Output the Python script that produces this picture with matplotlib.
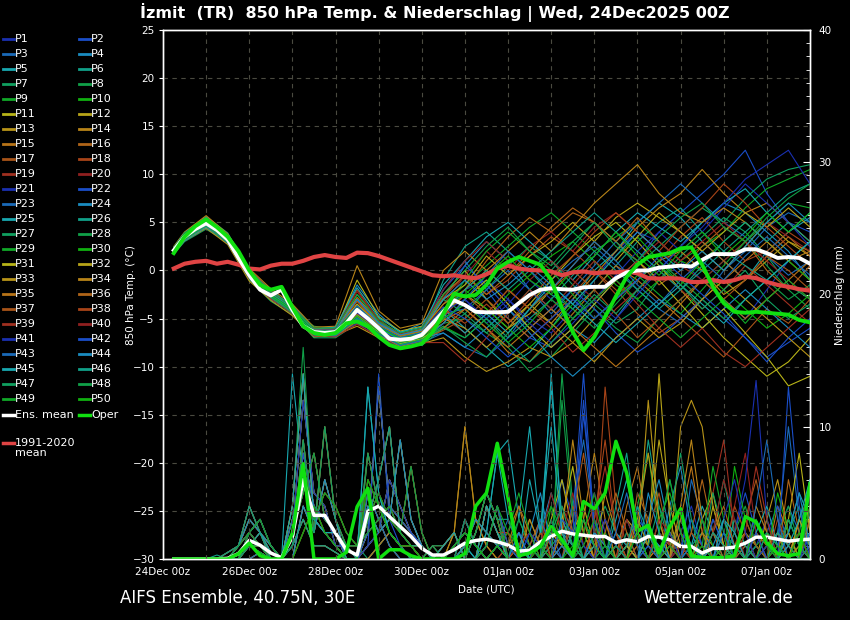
import datetime as dt
import matplotlib
matplotlib.use("Agg")
import matplotlib.pyplot as plt
import matplotlib.dates as mdates
from matplotlib.lines import Line2D
from matplotlib.ticker import MultipleLocator, FixedLocator

BG = "black"
FG = "white"
GRID = "#4a4a40"

START = dt.datetime(2025, 12, 24, 0)
END = dt.datetime(2026, 1, 8, 0)

# forecast steps: +6h ... +360h (members' temperature kept 12-hourly)
hours_6h = list(range(6, 361, 6))
hours_12h = [6] + list(range(12, 361, 12))
times_6h = [START + dt.timedelta(hours=h) for h in hours_6h]
times_12h = [START + dt.timedelta(hours=h) for h in hours_12h]

member_colors = [
    "#1a30b0", "#1a4ec8", "#1a6ab8", "#1a8cc0", "#18a8b0",
    "#10a088", "#10a060", "#10a048", "#10a828", "#10b010",
    "#b8b418", "#b8a418", "#b89418", "#b88418", "#b87418",
    "#b06418", "#a85418", "#a84418", "#a03020", "#902020",
]

# --- 850 hPa temperature (degC) ---------------------------------------------+

ens_mean_t = [2.1, 3.5, 4.3, 4.9, 4.2, 3.2, 1.3, -0.5, -2.0, -2.6,
              -2.0, -4.1, -5.8, -6.4, -6.5, -6.4, -5.5, -4.1, -5.0, -6.0,
              -7.1, -7.2, -7.1, -6.7, -5.5, -4.3, -3.1, -3.6, -4.3, -4.35,
              -4.35, -4.3, -3.4, -2.55, -2.0, -1.85, -1.95, -2.0, -1.75, -1.7,
              -1.7, -0.8, -0.2, 0.0, 0.0, 0.3, 0.4, 0.5, 0.4, 1.1,
              1.7, 1.7, 1.7, 2.2, 2.2, 1.8, 1.3, 1.4, 1.3, 0.7]

oper_t = [1.8, 3.5, 4.6, 5.3, 4.5, 3.5, 2.0, 0.0, -1.5, -2.0,
          -1.7, -3.8, -5.8, -6.5, -6.7, -6.5, -5.5, -5.3, -5.8, -6.9,
          -7.75, -8.1, -7.9, -7.6, -6.4, -4.5, -2.4, -2.7, -2.55, -1.5,
          0.2, 0.9, 1.4, 1.0, 0.6, -1.0, -3.9, -6.4, -8.3, -6.9,
          -4.8, -2.7, -0.65, 0.6, 1.4, 1.6, 1.8, 2.3, 2.4, 0.6,
          -1.7, -3.4, -4.3, -4.4, -4.3, -4.4, -4.5, -4.6, -5.15, -5.4]

clim_t = [0.2, 0.7, 0.9, 1.0, 0.7, 0.9, 0.6, 0.2, 0.1, 0.5,
          0.7, 0.7, 1.0, 1.4, 1.6, 1.4, 1.3, 1.85, 1.8, 1.5,
          1.1, 0.7, 0.3, -0.1, -0.5, -0.6, -0.5, -0.7, -0.8, -0.4,
          0.2, 0.5, 0.2, 0.05, 0.0, -0.1, -0.5, -0.2, -0.1, -0.3,
          -0.2, -0.2, -0.1, -0.3, -0.8, -0.85, -0.8, -0.85, -1.2, -1.2,
          -1.0, -1.2, -1.0, -0.65, -0.8, -1.2, -1.5, -1.7, -1.95, -2.1]

member_t = [
    [2.0, 3.4, 5.0, 3.5, -0.3, -2.5, -4.0, -6.5, -6.6, -4.5, -6.2, -7.5, -7.0, -5.0, -2.0, -1.0, -3.0, -5.0, -6.5, -4.0, -1.0, 2.0, 4.0, 3.0, 1.0, -1.0, -3.0, -5.0, -2.0, 1.0, 3.0],
    [2.3, 3.8, 5.4, 3.0, -0.8, -3.0, -4.4, -6.8, -6.2, -3.0, -5.5, -7.0, -6.0, -2.0, 1.0, -2.0, -5.0, -7.0, -8.0, -6.0, -3.5, -1.0, 1.0, 4.0, 6.0, 8.0, 10.0, 12.5, 8.0, 5.0, 4.0],
    [1.8, 3.2, 4.5, 2.8, -0.2, -2.2, -3.6, -6.0, -6.9, -5.0, -6.5, -8.0, -7.5, -6.5, -8.0, -9.0, -7.0, -4.0, -1.0, 1.0, 2.5, 0.5, -2.0, -4.0, -5.5, -3.0, 0.0, 2.0, 4.5, 6.0, 5.0],
    [2.2, 3.6, 5.2, 3.6, -0.6, -2.9, -4.5, -6.2, -6.0, -1.5, -4.5, -6.5, -5.5, -3.0, 0.5, 3.0, 1.0, -2.0, -4.0, -6.0, -7.5, -5.0, -2.0, 0.0, 2.5, 5.0, 7.0, 6.0, 4.0, 2.0, -1.0],
    [1.9, 3.3, 4.7, 3.3, -0.9, -2.4, -3.9, -6.9, -6.7, -4.8, -6.8, -7.8, -6.8, -4.0, -6.0, -8.0, -10.0, -8.5, -6.0, -3.0, 0.0, 2.0, 5.0, 7.0, 5.5, 3.0, 1.0, -1.0, 2.0, 4.0, 6.0],
    [2.4, 3.9, 5.6, 3.9, 0.0, -2.0, -3.8, -6.3, -6.5, -3.5, -5.8, -7.0, -6.5, -1.0, 2.5, 4.0, 2.0, 0.0, -2.5, -4.0, -2.0, 0.5, 3.0, 5.0, 6.5, 4.0, 2.0, 4.0, 6.0, 8.0, 9.0],
    [1.7, 3.0, 4.3, 2.9, -1.0, -3.2, -4.6, -7.0, -7.0, -5.5, -6.5, -7.5, -7.8, -6.0, -4.5, -2.0, 0.5, 2.5, 1.0, -1.5, -3.5, -5.5, -4.0, -1.0, 1.5, 3.5, 5.5, 4.0, 1.5, -1.5, -3.0],
    [2.1, 3.5, 4.8, 3.1, -0.4, -2.7, -4.2, -5.8, -6.1, -4.0, -6.0, -7.2, -6.8, -5.5, -5.0, -6.5, -8.0, -10.5, -9.0, -6.5, -4.0, -6.0, -7.5, -5.0, -3.0, -1.0, 1.0, 3.0, 0.5, -2.0, -4.0],
    [2.0, 3.6, 5.1, 3.4, -0.2, -2.4, -4.1, -6.6, -6.3, -2.5, -5.0, -6.8, -6.2, -3.5, -1.5, 0.5, 2.5, 4.5, 6.0, 4.0, 2.0, 3.5, 5.0, 3.0, 1.0, 2.5, 4.0, 6.5, 8.5, 9.5, 10.5],
    [2.2, 3.7, 5.3, 3.2, -0.7, -2.8, -4.3, -6.4, -6.8, -5.0, -6.2, -7.6, -7.2, -5.8, -7.0, -5.0, -2.5, -0.5, 1.5, 3.0, 1.0, -1.5, -3.0, -1.0, 1.0, 0.0, -2.0, -4.0, -6.0, -4.5, -2.5],
    [1.9, 3.3, 4.6, 3.0, -0.5, -2.5, -3.9, -6.1, -6.2, -1.0, -4.8, -6.3, -5.8, -2.5, 0.0, -3.0, -5.5, -3.5, -1.0, 1.5, 3.5, 5.0, 3.0, 0.5, -2.0, -4.5, -7.0, -9.0, -11.0, -9.5, -7.0],
    [2.3, 3.6, 5.0, 3.5, -0.1, -2.3, -4.0, -6.2, -6.4, -4.2, -5.6, -6.9, -6.4, -4.5, -2.5, -4.0, -6.0, -4.5, -2.0, 0.5, 3.0, 5.5, 7.0, 5.5, 4.0, 2.0, 0.0, 2.5, 5.0, 3.0, 1.5],
    [1.8, 3.1, 4.4, 2.7, -1.1, -3.1, -4.7, -6.9, -6.7, -5.8, -7.0, -8.2, -7.6, -7.0, -9.0, -10.5, -9.5, -8.0, -9.0, -7.5, -5.0, -3.0, -1.0, 1.0, 2.0, 0.0, -2.5, -1.0, 1.0, 3.0, 2.0],
    [2.5, 4.0, 5.7, 3.8, 0.2, -1.9, -3.5, -5.9, -5.8, 0.5, -4.2, -6.0, -5.5, 0.0, 2.0, 0.0, -2.0, -4.0, -5.5, -3.0, -0.5, 2.0, 4.5, 6.5, 8.0, 10.5, 8.0, 6.0, 7.0, 5.0, 3.0],
    [2.0, 3.4, 4.9, 3.3, -0.6, -2.6, -4.2, -6.5, -6.5, -4.5, -6.4, -7.4, -6.9, -5.2, -4.0, -6.0, -8.5, -9.5, -7.0, -4.5, -2.0, 0.5, -1.0, -3.0, -5.0, -3.0, -1.0, 1.0, 3.0, 1.0, -1.0],
    [2.1, 3.5, 5.0, 3.4, -0.4, -2.6, -4.1, -6.4, -6.3, -3.8, -5.9, -7.1, -6.6, -4.0, -2.0, 1.0, 3.5, 5.5, 4.0, 6.0, 5.0, 3.0, 1.0, -1.5, 0.0, 2.5, 4.5, 3.0, 0.0, -2.0, 0.5],
    [1.8, 3.3, 4.7, 3.1, -0.6, -2.9, -4.4, -6.7, -6.9, -5.2, -6.6, -7.9, -7.3, -6.2, -5.0, -3.0, -5.0, -7.0, -5.0, -2.5, 0.0, -2.0, -4.5, -6.5, -5.0, -7.0, -9.0, -6.5, -4.0, -5.5, -3.0],
    [2.4, 3.8, 5.5, 3.7, 0.1, -2.1, -3.9, -6.0, -6.0, -2.0, -5.2, -6.6, -6.0, -2.8, -0.5, -2.5, -1.0, 1.5, 3.5, 2.0, 0.0, -2.5, -1.0, 1.0, 3.5, 5.5, 3.0, 1.0, 2.0, 4.0, 2.5],
    [2.0, 3.4, 4.8, 3.2, -0.5, -2.7, -4.2, -6.5, -6.5, -4.3, -6.1, -7.3, -6.8, -4.8, -6.5, -4.5, -2.0, -4.0, -6.0, -8.5, -6.5, -4.0, -2.0, 0.0, -2.0, -4.0, -2.0, 0.5, -1.5, -3.5, -5.5],
    [2.2, 3.6, 5.1, 3.3, -0.5, -2.5, -4.0, -6.3, -6.4, -3.2, -5.8, -7.0, -6.5, -3.5, -0.5, 2.0, 0.0, 2.5, 4.0, 2.0, 4.5, 6.0, 4.0, 2.0, 0.5, -1.0, 1.0, 3.0, 5.0, 3.5, 2.0],
    [1.9, 3.2, 4.6, 2.9, -0.8, -2.8, -4.4, -6.8, -6.6, -5.5, -6.9, -8.0, -7.4, -5.5, -3.0, -5.5, -3.5, -1.0, -3.0, -5.0, -3.0, -0.5, 2.0, 4.0, 2.0, 4.0, 6.5, 9.0, 7.0, 5.0, 2.5],
    [2.3, 3.7, 5.3, 3.5, -0.3, -2.4, -3.9, -6.1, -6.2, -3.0, -5.4, -6.7, -6.3, -2.0, 0.5, -1.5, -4.0, -6.0, -4.0, -2.0, -4.0, -6.5, -8.5, -7.0, -5.0, -3.0, -5.0, -7.0, -9.0, -7.5, -6.0],
    [2.1, 3.5, 4.9, 3.2, -0.5, -2.6, -4.1, -6.4, -6.5, -4.3, -6.0, -7.2, -6.7, -4.5, -4.0, -2.0, 0.0, -2.0, -4.5, -2.0, 0.5, 3.0, 5.0, 7.0, 9.0, 7.0, 5.0, 3.5, 1.5, -0.5, 1.0],
    [1.8, 3.1, 4.5, 3.0, -0.7, -2.7, -4.3, -6.6, -6.8, -5.0, -6.3, -7.7, -7.0, -6.5, -8.0, -6.0, -4.0, -6.5, -9.0, -11.0, -9.0, -7.0, -5.0, -3.0, -4.5, -6.0, -4.0, -2.0, -4.0, -6.0, -8.0],
    [2.4, 3.9, 5.5, 3.6, 0.0, -2.2, -3.8, -6.1, -5.9, -1.8, -4.9, -6.4, -5.9, -1.5, 1.0, 3.5, 5.0, 3.0, 1.0, -1.0, 1.5, 4.0, 6.0, 4.5, 3.0, 5.0, 7.0, 8.5, 6.0, 4.0, 5.5],
    [2.0, 3.3, 4.7, 3.1, -0.6, -2.8, -4.3, -6.7, -6.6, -4.6, -6.3, -7.5, -6.9, -5.0, -3.5, -5.0, -7.0, -5.0, -3.0, -0.5, 2.0, 0.0, -2.0, -4.0, -2.0, 0.0, 2.0, 0.5, -1.0, 1.0, 3.0],
    [2.2, 3.6, 5.0, 3.4, -0.4, -2.5, -4.0, -6.3, -6.2, -3.6, -5.7, -6.9, -6.4, -3.0, -4.5, -6.5, -4.5, -2.0, 0.0, 2.5, 5.0, 3.0, 0.5, 2.5, 4.5, 6.5, 5.0, 7.5, 9.5, 10.5, 11.0],
    [1.9, 3.4, 4.8, 3.2, -0.4, -2.6, -4.1, -6.5, -6.7, -4.8, -6.4, -7.6, -7.1, -5.8, -7.5, -9.0, -6.5, -4.0, -2.0, -4.0, -6.0, -3.5, -1.0, 1.0, -1.0, -3.0, -5.0, -3.0, -1.0, -3.0, -1.5],
    [2.1, 3.5, 5.0, 3.3, -0.5, -2.6, -4.1, -6.4, -6.4, -4.0, -5.9, -7.1, -6.6, -4.2, -1.0, 2.0, 4.0, 2.0, 0.0, -2.5, -5.0, -3.0, -0.5, -2.5, -4.5, -2.0, 0.5, 3.0, 5.0, 7.0, 6.5],
    [2.3, 3.7, 5.2, 3.4, -0.5, -2.7, -4.2, -6.3, -6.3, -3.8, -5.8, -7.0, -6.5, -4.0, -2.0, -4.0, -6.0, -8.0, -6.0, -3.5, -1.0, 1.5, 3.5, 1.0, -1.5, 1.0, 3.0, 5.0, 3.0, 1.0, -1.0],
    [1.8, 3.2, 4.6, 3.0, -0.7, -2.7, -4.3, -6.6, -6.6, -4.7, -6.4, -7.6, -7.1, -5.5, -3.0, -1.0, -3.5, -6.0, -8.0, -6.0, -3.5, -1.0, 1.0, -1.0, -3.5, -6.0, -4.0, -6.5, -9.0, -12.0, -11.0],
    [2.2, 3.6, 5.1, 3.3, -0.4, -2.5, -4.0, -6.2, -6.3, -3.5, -5.6, -6.8, -6.3, -3.0, -1.5, 1.5, -0.5, 1.5, 3.0, 5.0, 3.0, 1.0, 3.5, 6.0, 4.0, 2.0, 4.0, 6.0, 4.5, 6.5, 4.5],
    [2.0, 3.4, 4.8, 3.2, -0.6, -2.6, -4.2, -6.5, -6.6, -4.6, -6.2, -7.4, -6.9, -5.0, -6.0, -8.0, -6.0, -3.5, -5.5, -7.5, -9.5, -7.0, -5.0, -7.0, -5.5, -3.0, -1.0, -3.0, -5.0, -7.0, -9.0],
    [2.3, 3.8, 5.3, 3.5, -0.2, -2.3, -3.8, -6.1, -6.1, -2.8, -5.3, -6.6, -6.1, -3.5, -2.0, 0.0, 2.0, 4.0, 2.0, 4.5, 7.0, 9.0, 11.0, 8.0, 6.0, 5.0, 6.5, 5.0, 3.0, 1.0, 2.0],
    [1.9, 3.3, 4.7, 3.1, -0.7, -2.8, -4.3, -6.7, -6.8, -5.3, -6.7, -7.9, -7.3, -6.0, -4.0, -6.0, -8.0, -6.0, -4.0, -6.0, -8.0, -10.0, -8.0, -6.0, -3.5, -1.0, -3.0, -5.0, -3.0, -1.0, 1.0],
    [2.1, 3.6, 5.1, 3.4, -0.3, -2.4, -4.0, -6.3, -6.2, -3.2, -5.6, -6.8, -6.3, -2.5, -0.5, -2.5, -0.5, 2.0, 4.5, 6.5, 5.0, 3.0, 5.5, 3.0, 1.0, 3.0, 1.0, -1.0, 1.5, 3.5, 1.5],
    [2.0, 3.4, 4.8, 3.2, -0.5, -2.6, -4.1, -6.5, -6.5, -4.5, -6.1, -7.3, -6.8, -4.8, -2.5, -4.5, -2.0, -4.0, -2.0, 0.0, -2.0, -4.5, -7.0, -5.0, -3.0, -1.0, -3.0, -1.0, 1.5, 0.0, -2.0],
    [2.2, 3.5, 5.0, 3.3, -0.5, -2.6, -4.1, -6.4, -6.4, -3.9, -6.0, -7.2, -6.7, -4.0, -5.5, -3.5, -5.5, -3.0, -0.5, 1.5, 4.0, 6.0, 4.0, 2.0, 4.5, 6.5, 9.0, 7.0, 4.5, 2.5, 0.5],
    [1.9, 3.3, 4.7, 3.0, -0.8, -2.9, -4.5, -6.8, -6.9, -5.6, -6.9, -8.1, -7.5, -7.5, -9.5, -7.0, -4.5, -2.0, -4.0, -1.5, 1.0, -1.0, -3.5, -6.0, -8.0, -6.0, -8.5, -10.0, -8.0, -6.0, -4.0],
    [2.4, 3.8, 5.4, 3.6, -0.2, -2.3, -3.9, -6.2, -6.1, -2.2, -5.2, -6.6, -6.0, -2.0, 1.0, 3.0, 1.0, -1.0, 1.0, -1.0, -3.0, -1.0, 1.0, 3.0, 1.0, 3.0, 5.0, 3.0, 1.0, -1.0, -3.0],
    [2.0, 3.4, 4.9, 3.2, -0.5, -2.6, -4.1, -6.5, -6.5, -4.4, -6.1, -7.3, -6.8, -4.3, -3.0, -5.0, -3.0, -5.5, -7.5, -5.5, -3.0, -5.0, -2.5, 0.0, 2.5, 4.5, 7.0, 9.5, 11.0, 12.5, 9.0],
    [2.2, 3.6, 5.1, 3.3, -0.4, -2.5, -4.0, -6.3, -6.3, -3.7, -5.8, -7.0, -6.5, -3.8, -5.0, -7.0, -9.0, -7.0, -5.0, -3.0, -5.0, -3.0, -1.0, 1.5, -0.5, -2.5, -4.5, -7.0, -9.5, -7.0, -5.0],
    [1.9, 3.3, 4.7, 3.1, -0.7, -2.8, -4.3, -6.7, -6.8, -5.0, -6.6, -7.8, -7.3, -5.5, -3.0, -0.5, 2.0, 0.0, -2.0, 0.5, 3.0, 1.0, -1.5, -3.5, -1.0, 1.0, -1.0, 1.5, 3.5, 1.5, -0.5],
    [2.3, 3.7, 5.2, 3.5, -0.3, -2.4, -3.9, -6.2, -6.2, -3.0, -5.5, -6.7, -6.2, -3.0, -1.0, -3.0, -1.5, 0.5, -1.5, -3.5, -1.0, 1.5, 4.0, 2.0, 0.0, 2.0, 0.0, 2.5, 5.0, 7.0, 5.0],
    [2.0, 3.5, 4.9, 3.2, -0.5, -2.6, -4.1, -6.4, -6.4, -4.1, -6.0, -7.2, -6.7, -4.5, -6.5, -4.5, -6.5, -4.0, -1.5, -3.5, -5.5, -7.5, -5.5, -3.5, -1.5, -3.5, -5.5, -3.0, -1.0, 1.0, 3.0],
    [2.1, 3.5, 4.9, 3.2, -0.5, -2.6, -4.1, -6.4, -6.4, -4.0, -6.0, -7.2, -6.7, -4.4, -2.0, 0.0, -2.0, 0.0, 2.0, 4.0, 6.0, 4.0, 2.0, 0.0, -2.0, 0.5, 3.0, 5.0, 3.0, 5.0, 3.0],
    [1.8, 3.2, 4.6, 2.9, -0.7, -2.8, -4.4, -6.7, -6.7, -5.1, -6.5, -7.7, -7.2, -6.0, -7.0, -5.0, -7.5, -9.5, -7.5, -5.0, -2.5, -4.5, -2.0, 0.5, -1.5, -4.0, -2.0, 0.0, -3.0, -5.0, -3.5],
    [2.4, 3.9, 5.4, 3.6, -0.1, -2.2, -3.8, -6.0, -6.0, -2.5, -5.3, -6.5, -6.0, -2.5, 0.0, 2.5, 4.5, 2.0, 0.5, 3.0, 5.0, 2.5, 1.0, 3.5, 5.5, 7.0, 4.5, 3.0, 5.5, 7.5, 9.0],
    [1.9, 3.3, 4.8, 3.1, -0.6, -2.7, -4.2, -6.6, -6.6, -4.7, -6.3, -7.5, -7.0, -5.0, -3.5, -5.5, -7.5, -5.5, -3.0, -5.0, -3.0, -1.0, -3.0, -5.0, -7.0, -5.0, -3.0, -5.5, -3.0, -1.0, -3.0],
    [2.1, 3.6, 5.0, 3.3, -0.4, -2.5, -4.0, -6.3, -6.3, -3.9, -5.9, -7.1, -6.6, -4.0, -2.5, -0.5, 1.5, -1.0, -2.5, 0.0, 1.5, 4.0, 1.5, -0.5, 2.0, 4.0, 1.5, 3.5, 6.0, 4.0, 6.0],
]

# --- precipitation per 6h (mm) ----------------------------------------------+

ens_mean_p = [0, 0, 0, 0, 0, 0.05, 0.4, 1.4, 1.05, 0.45,
              0.1, 1.7, 6.0, 3.3, 3.3, 1.95, 0.7, 0.3, 3.6, 4.0,
              3.2, 2.45, 1.7, 0.8, 0.3, 0.3, 0.7, 1.2, 1.4, 1.5,
              1.3, 1.05, 0.6, 0.65, 1.3, 1.7, 2.1, 1.9, 1.8, 1.7,
              1.7, 1.25, 1.45, 1.3, 1.7, 1.65, 1.45, 0.95, 0.95, 0.45,
              0.8, 0.8, 0.9, 1.2, 1.65, 1.65, 1.5, 1.35, 1.45, 1.5]

oper_p = [0, 0, 0, 0, 0, 0, 0.4, 1.2, 0.25, 0,
          0, 1.95, 7.2, 0, 0, 0, 0.5, 3.95, 5.35, 0,
          0.7, 0.7, 0.25, 0, 0, 0, 0, 0.4, 4.0, 5.0,
          8.75, 4.6, 0.25, 0.45, 0.95, 2.45, 1.45, 0.25, 4.35, 3.8,
          5.0, 8.9, 6.5, 2.1, 2.55, 0.45, 2.45, 3.8, 0.25, 0.1,
          0.1, 0.1, 0.25, 3.2, 2.8, 1.25, 0.4, 0.25, 0.4, 5.7]

member_p = [
    [0,0,0,0,0, 0,0,1,1,0,0, 1,8,4,3,2,0,0, 3,5,3,2,1,0,0, 0,1,2,1,0,1, 0,0,1,3,1,0,0,2,5,2,0,0,0,1,0,0,2,4,1,0,0,0,0,1,3,1,0,0,2],
    [0,0,0,0,0, 0,1,2,1,0,0, 2,12,5,4,1,1,0, 6,4,2,1,1,0,0, 0,0,1,3,2,1, 1,0,0,0,2,6,3,14,2,0,0,0,3,2,0,0,0,1,0,0,0,2,5,2,0,0,1,0,0],
    [0,0,0,0,0, 0,0,2,3,1,0, 0,4,2,6,3,0,0, 1,2,6,4,2,1,0, 1,2,0,0,4,2, 0,2,0,0,0,1,4,9,3,0,0,1,0,0,2,1,0,0,0,3,1,0,0,0,0,2,4,2,1],
    [0,0,0,0,0, 0,0.5,1,0.5,0,0, 3,6,3,2,1,0,0, 2,13,4,3,2,1,0, 0,0,0,2,5,3, 0,0,0,2,5,2,0,0,0,0,1,3,1,0,0,4,7,2,0,0,0,0,1,0,0,0,3,1,0],
    [0,0,0,0,0, 0,1,3,2,1,0, 14,6,3,2,2,1,0, 13,5,2,1,0,0,0, 0,0,1,0,2,8, 3,1,0,0,14,2,1,0,0,0,3,6,2,0,0,0,0,1,4,2,0,0,0,0,1,0,2,5,3],
    [0,0,0,0,0.3, 0,0,1,2,0.5,0, 1,9,2,10,3,1,0, 4,2,3,9,3,1,0, 0,0,3,1,0,0, 0,0,0,0,1,0,0,3,1,0,0,0,2,9,4,1,0,0,0,0,2,1,0,0,0,1,3,1,0],
    [0,0,0,0,0, 0.5,1,4,2,0,0, 2,5,8,3,2,1,1, 0,1,2,1,1,0,0, 0,0,0,0,1,4, 1,3,1,0,0,0,0,0,2,4,2,0,0,0,0,1,3,1,0,2,6,2,0,0,0,0,0,2,1],
    [0,0,0,0,0, 0,0,1,1,0,0, 4,16,3,2,2,1,0, 3,6,10,2,1,1,0, 0,1,2,1,0,1, 0,0,2,1,0,14,4,1,0,0,0,1,0,0,0,2,1,0,0,0,0,3,1,0,0,2,4,1,0],
    [0,0,0,0,0, 0,1,2,1,0,0, 0,2,4,2,1,0,0, 8,4,2,1,0,0,1, 0,0,1,3,2,1, 0,1,0,0,0,2,3,1,0,0,0,0,4,8,2,0,0,0,1,0,0,0,0,1,2,1,0,0,3],
    [0,0,0,0,0, 0,0,2,3,1,0, 2,7,3,5,4,2,1, 2,3,4,2,7,2,0, 1,2,0,0,4,2, 2,0,0,0,4,2,0,0,1,2,0,0,0,0,3,5,2,0,0,0,0,7,3,1,0,0,0,1,2],
    [0,0,0,0,0, 0,0,0,0.5,0,0, 1,8,4,3,2,0,0, 1,2,6,4,2,1,0, 0,0,0,2,5,3, 0,0,0,1,3,6,2,0,0,0,0,1,2,0,0,0,0,0,3,5,1,0,0,0,0,2,1,0,4],
    [0,0,0,0,0, 0,1,3,2,1,0, 2,12,5,4,1,1,0, 2,13,4,3,2,1,0, 0,0,3,1,0,0, 0,0,1,0,0,0,2,4,1,0,0,3,2,1,14,3,0,0,0,1,0,0,2,1,0,0,0,3,1],
    [0,0,0,0,0, 0,0,1,2,0.5,0, 0,4,2,6,3,0,0, 5,3,1,0,0,0,0, 0,2,10,3,1,0, 1,2,0,0,0,3,1,0,0,5,2,0,1,12,3,0,0,0,0,2,1,0,0,0,3,6,2,0,0],
    [0,0,0,0,0, 0.5,1,4,2,0,0, 3,6,3,2,1,0,0, 4,2,3,9,3,1,0, 0,0,0,0,1,4, 0,0,0,0,2,1,0,3,8,3,0,0,0,0,1,0,4,9,3,0,0,0,0,0,1,2,0,0,2],
    [0,0,0,0,0, 0,0,1,1,0,0, 1,3,1,1,0.5,0,0, 0,1,2,1,1,0,0, 0,1,2,1,0,1, 2,4,1,0,0,0,0,1,0,0,0,4,7,2,0,0,1,0,0,0,3,1,0,0,0,4,2,0,1],
    [0,0,0,0,0, 0,1,2,1,0,0, 4,14,3,2,2,1,0, 3,6,10,2,1,1,0, 0,0,1,3,2,1, 0,0,0,3,1,0,0,0,2,1,0,0,5,3,0,0,0,2,6,2,0,0,1,0,0,0,0,3,5],
    [0,0,0,0,0, 0,0,2,3,1,0, 2,5,8,3,2,1,1, 8,4,2,1,0,0,1, 1,2,0,0,4,2, 0,1,3,1,0,0,4,2,0,0,0,0,0,2,5,1,0,0,0,0,0,1,3,6,2,0,0,0,1],
    [0,0,0,0,0, 0,0.5,1,0.5,0,0, 1,9,2,10,3,1,0, 2,3,4,2,7,2,0, 0,0,0,2,5,3, 0,0,0,0,1,4,2,0,0,13,4,1,0,0,0,0,2,1,0,0,0,0,3,1,0,0,1,2,0],
    [0,0,0,0,0, 0,0,0,0.5,0,0, 0,2,4,2,1,0,0, 3,5,3,2,1,0,0, 0,0,3,1,0,0, 1,0,0,2,0,0,0,0,3,7,2,0,0,0,0,1,0,0,2,5,9,2,0,0,0,0,1,0,0],
    [0,0,0,0,0, 0,1,3,2,1,0, 2,7,3,5,4,2,1, 6,4,2,1,1,0,0, 0,0,1,3,2,1, 0,0,0,0,0,2,5,1,0,0,1,0,0,0,3,2,0,0,0,0,0,4,8,2,0,0,0,1,3],
    [0,0,0,0,0, 0,0,1,2,0.5,0, 1,8,4,3,2,0,0, 1,2,6,4,2,1,0, 0,0,0,0,1,4, 0,2,1,0,0,0,3,1,0,0,0,2,0,0,0,0,1,3,1,0,0,2,6,13.5,3,0,0,1,0],
    [0,0,0,0,0, 0.5,1,4,2,0,0, 2,12,5,4,1,1,0, 1,14,3,1,0,0,0, 0,1,2,1,0,1, 0,0,0,1,2,0,0,11,3,1,0,0,0,2,1,0,0,0,0,3,1,0,0,0,2,4,1,0,0],
    [0,0,0,0,0, 0,0,1,1,0,0, 0,4,2,6,3,0,0, 5,3,1,0,0,0,0, 0,0,1,3,2,1, 3,1,0,0,0,0,0,2,1,0,0,0,4,1,0,0,0,6,3,0,0,0,0,1,0,2,10,3,1],
    [0,0,0,0,0, 0,1,2,1,0,0, 3,6,3,2,1,0,0, 4,2,3,9,3,1,0, 1,2,0,0,4,2, 0,0,2,5,1,0,0,0,0,1,0,0,0,3,6,2,0,0,0,0,1,0,0,3,1,0,0,0,2],
    [0,0,0,0,0, 0,0,2,3,1,0, 1,3,1,1,0.5,0,0, 0,1,2,1,1,0,0, 0,0,1,0,2,8, 9,3,10,2,13,3,1,0,0,0,2,1,0,0,0,0,3,1,0,0,0,1,0,2,4,1,0,0,0],
    [0,0,0,0,0, 0,0.5,1,0.5,0,0, 4,14,3,2,2,1,0, 3,6,10,2,1,1,0, 0,0,3,1,0,0, 0,0,0,0,1,2,0,0,0,0,4,8,2,0,0,0,0,1,2,0,0,3,1,0,0,0,2,4,1],
    [0,0,0,0,0, 0,0,0,0.5,0,0, 2,5,8,3,2,1,1, 8,4,2,1,0,0,1, 1,2,0,0,4,2, 1,0,0,0,3,1,0,0,2,0,0,0,0,1,4,2,0,0,0,5,2,0,0,1,0,0,0,2,6],
    [0,0,0,0,0, 0,1,3,2,1,0, 1,9,2,10,3,1,0, 2,3,4,2,7,2,0, 0,0,0,0,1,4, 0,3,1,0,0,12,3,0,0,0,0,2,1,0,0,0,0,3,1,0,0,2,4,1,0,0,0,1,0],
    [0,0,0,0,0, 0,0,1,2,0.5,0, 0,2,4,2,1,0,0, 3,5,3,2,1,0,0, 0,1,2,1,0,1, 0,0,0,2,4,1,0,0,0,1,0,0,3,1,0,0,0,0,1,7,3,0,0,0,2,1,0,0,0],
    [0,0,0,0,0, 0.5,1,4,2,0,0, 2,7,3,5,4,2,1, 6,4,2,1,1,0,0, 0,0,1,3,2,1, 2,1,0,0,0,0,1,3,1,0,0,0,0,0,2,6,2,0,0,0,1,0,0,0,0,5,2,0,1],
    [0,0,0,0,0, 0,0,1,1,0,0, 2,12,5,4,1,1,0, 1,2,6,4,2,1,0, 0,0,0,2,5,3, 0,0,0,0,0,3,7,2,0,0,0,1,0,0,0,2,0,0,0,4,1,0,0,0,0,0,3,8,2],
    [0,0,0,0,0, 0,1,2,1,0,0, 1,8,4,3,2,0,0, 2,13,4,3,2,1,0, 1,2,0,0,4,2, 0,1,0,0,2,1,0,0,0,3,1,0,0,2,9,4,1,0,0,0,0,1,2,0,0,0,0,3,1],
    [0,0,0,0,0, 0,0,2,3,1,0, 3,6,3,2,1,0,0, 5,3,1,0,0,0,0, 0,0,3,1,0,0, 0,0,3,1,0,0,0,2,0,0,1,0,3,8,3,0,10,12,10,4,1,0,0,0,0,1,2,0,0],
    [0,0,0,0,0, 0,0.5,1,0.5,0,0, 0,4,2,6,3,0,0, 4,2,3,9,3,1,0, 0,2,10,3,1,0, 0,0,0,0,0,2,9,3,0,0,0,1,3,1,0,0,0,0,2,1,0,0,0,4,2,0,0,1,0],
    [0,0,0,0,0, 0,0,0,0.5,0,0, 4,14,3,2,2,1,0, 0,1,2,1,1,0,0, 0,0,0,0,1,4, 1,4,2,0,0,0,0,0,1,3,0,0,0,0,1,0,3,7,2,0,0,0,0,2,1,0,0,0,3],
    [0,0,0,0,0, 0,1,3,2,1,0, 1,3,1,1,0.5,0,0, 3,6,10,2,1,1,0, 0,1,2,1,0,1, 0,0,1,3,0,0,0,0,0,2,5,2,0,0,0,1,0,0,0,2,4,1,0,0,0,0,6,2,0],
    [0,0,0,0,0, 0,0,1,2,0.5,0, 1,9,2,10,3,1,0, 8,4,2,1,0,0,1, 0,0,1,3,2,1, 0,0,0,2,1,0,3,8,2,0,0,0,1,0,0,0,0,2,1,0,0,0,3,1,0,0,0,0,4],
    [0,0,0,0,0, 0.5,1,4,2,0,0, 2,5,8,3,2,1,1, 2,3,4,2,7,2,0, 1,2,0,0,4,2, 2,0,0,0,0,1,0,0,3,9,2,0,0,0,2,1,0,0,0,0,0,4,2,0,0,3,1,0,0],
    [0,0,0,0,0, 0,0,1,1,0,0, 2,7,3,5,4,2,1, 3,5,3,2,1,0,0, 0,0,0,2,5,3, 0,1,2,0,0,0,0,2,4,1,0,0,0,0,3,1,0,0,1,0,0,0,2,7,3,0,0,0,1],
    [0,0,0,0,0, 0,1,2,1,0,0, 0,2,4,2,1,0,0, 6,4,2,1,1,0,0, 0,0,3,1,0,0, 0,0,0,1,5,2,0,0,0,0,0,3,1,0,0,0,1,0,0,2,6,3,0,0,0,1,0,2,0],
    [0,0,0,0,0, 0,0,2,3,1,0, 2,12,5,4,1,1,0, 1,2,6,4,2,1,0, 0,0,3,1,0,0, 0,0,2,1,0,0,0,1,0,3,1,0,0,0,0,2,0,0,0,0,3,6,2,0,1,0,0,0,2],
    [0,0,0,0,0, 0,0.5,1,0.5,0,0, 1,8,4,3,2,0,0, 2,13,4,3,2,1,0, 0,0,0,0,1,4, 1,0,0,0,0,3,2,12,2,0,0,0,0,1,0,0,0,3,1,0,0,0,0,2,0,0,13,4,0],
    [0,0,0,0,0, 0,0,0,0.5,0,0, 3,6,3,2,1,0,0, 5,3,1,0,0,0,0, 0,1,2,1,0,1, 0,0,0,3,1,0,0,0,0,0,2,5,1,0,0,0,0,1,0,0,2,0,0,4,9,3,0,0,1],
    [0,0,0,0,0, 0,1,3,2,1,0, 0,4,2,6,3,0,0, 4,2,3,9,3,1,0, 0,0,1,3,2,1, 0,2,0,0,0,1,0,0,2,1,0,0,0,5,2,0,0,0,0,1,3,1,0,0,0,0,2,5,1],
    [0,0,0,0,0, 0,0,1,2,0.5,0, 4,14,3,2,2,1,0, 13,5,2,1,0,0,0, 1,2,0,0,4,2, 0,0,6,2,10,2,0,0,1,0,0,0,0,2,1,0,0,0,0,0,3,2,0,0,0,0,1,3,6],
    [0,0,0,0,0, 0.5,1,4,2,0,0, 1,3,1,1,0.5,0,0, 3,6,10,2,1,1,0, 0,0,0,2,5,3, 3,1,0,0,0,0,2,0,0,0,0,1,4,2,0,0,0,0,0,2,1,0,0,0,0,2,1,0,0],
    [0,0,0,0,0, 0,0,1,1,0,0, 1,9,2,10,3,1,0, 8,4,2,1,0,0,1, 0,0,3,1,0,0, 0,0,0,0,2,4,1,0,0,0,1,0,0,0,0,3,8,3,0,0,0,0,0,0,2,1,0,0,0],
    [0,0,0,0,0, 0,1,2,1,0,0, 2,5,8,3,2,1,1, 2,3,4,2,7,2,0, 0,0,0,2,5,3, 0,0,1,0,0,0,0,3,1,0,0,0,0,0,2,6,2,0,0,0,0,1,0,0,0,0,3,1,0],
    [0,0,0,0,0, 0,0,2,3,1,0, 2,7,3,5,4,2,1, 3,5,3,2,1,0,0, 0,0,0,0,1,4, 2,5,2,0,0,0,0,1,3,0,0,0,0,0,0,1,0,0,3,1,0,0,0,0,0,1,0,0,4],
    [0,0,0,0,0, 0,0.5,1,0.5,0,0, 0,2,4,2,1,0,0, 6,4,2,1,1,0,0, 0,1,2,1,0,1, 0,0,0,1,0,0,0,2,5,1,0,0,2,0,0,0,0,0,1,0,0,0,0,3,1,0,0,2,0],
]


def fx(px):
    return px / 850


def fy(py):
    return 1 - py / 620


fig = plt.figure(figsize=(8.5, 6.2), dpi=100, facecolor=BG)
ax = fig.add_axes([fx(163), fy(559), (810 - 163) / 850, (559 - 30) / 620])
ax2 = ax.twinx()
ax.set_zorder(ax2.get_zorder() + 1)
ax.patch.set_visible(False)

# members
for k in range(50):
    c = member_colors[k % 20]
    ax2.plot(times_6h, member_p[k], c=c, lw=0.8, zorder=2)
    ax.plot(times_12h, member_t[k], c=c, lw=0.8, zorder=2)

ax.plot(times_6h, clim_t, c="#e04444", lw=3, zorder=3)
ax.plot(times_6h, ens_mean_t, c=FG, lw=2.8, zorder=4)
ax.plot(times_6h, oper_t, c="#10e010", lw=2.8, zorder=5)
ax2.plot(times_6h, ens_mean_p, c=FG, lw=2.5, zorder=4)
ax2.plot(times_6h, oper_p, c="#10e010", lw=2.5, zorder=5)

# axes
ax.set_xlim(START, END)
ax.set_ylim(-30, 25)
ax2.set_ylim(0, 40)
major_days = [mdates.date2num(START + dt.timedelta(days=d)) for d in range(0, 15, 2)]
minor_days = [mdates.date2num(START + dt.timedelta(days=d)) for d in range(0, 16)]
ax.xaxis.set_major_locator(FixedLocator(major_days))
ax.xaxis.set_minor_locator(FixedLocator(minor_days))
ax.xaxis.set_major_formatter(mdates.DateFormatter("%d%b %Hz"))
ax.yaxis.set_major_locator(MultipleLocator(5))
ax2.yaxis.set_major_locator(MultipleLocator(10))
ax2.yaxis.set_minor_locator(MultipleLocator(1))

ax.grid(True, which="both", axis="x", color=GRID, ls=(0, (4, 4)), lw=0.8)
ax.grid(True, which="major", axis="y", color=GRID, ls=(0, (4, 4)), lw=0.8)

ax.tick_params(axis="x", which="both", length=0, pad=6, colors=FG, labelsize=7.5)
ax.tick_params(axis="y", length=3, pad=3, colors=FG, labelsize=7.5)
ax2.tick_params(axis="y", which="major", direction="in", length=5, pad=6,
                colors=FG, labelsize=7.5)
ax2.tick_params(axis="y", which="minor", direction="in", length=3, colors=FG)

for a in (ax, ax2):
    for s in a.spines.values():
        s.set_color(FG)
        s.set_linewidth(1)

# texts
fig.text(fx(435), fy(13),
         "İzmit  (TR)  850 hPa Temp. & Niederschlag | Wed, 24Dec2025 00Z",
         color=FG, fontsize=11.5, fontweight="bold", ha="center", va="center")
fig.text(fx(131), fy(295), "850 hPa Temp. (°C)", color=FG, fontsize=7.5,
         rotation=90, ha="center", va="center")
fig.text(fx(840), fy(295), "Niederschlag (mm)", color=FG, fontsize=7.5,
         rotation=90, ha="center", va="center")
fig.text(fx(486), fy(589), "Date (UTC)", color=FG, fontsize=7.5,
         ha="center", va="center")
fig.text(fx(120), fy(598), "AIFS Ensemble, 40.75N, 30E", color=FG,
         fontsize=12, ha="left", va="center")
fig.text(fx(793), fy(598), "Wetterzentrale.de", color=FG, fontsize=12,
         ha="right", va="center")

# legend, drawn by hand in two columns
for k in range(50):
    row, col = divmod(k, 2)
    y = 39 + 15 * row
    x0 = 3 if col == 0 else 79
    fig.add_artist(Line2D([fx(x0), fx(x0 + 11)], [fy(y), fy(y)],
                          color=member_colors[k % 20], lw=2))
    fig.text(fx(x0 + 12), fy(y), f"P{k + 1}", color=FG, fontsize=8,
             ha="left", va="center")

extra = [(3, 415, FG, "Ens. mean"), (79, 415, "#10e010", "Oper")]
for x0, y, c, label in extra:
    fig.add_artist(Line2D([fx(x0), fx(x0 + 11)], [fy(y), fy(y)], color=c, lw=2.5))
    fig.text(fx(x0 + 12), fy(y), label, color=FG, fontsize=8, ha="left", va="center")
fig.add_artist(Line2D([fx(3), fx(14)], [fy(443), fy(443)], color="#e04444", lw=2.5))
fig.text(fx(15), fy(448), "1991-2020\nmean", color=FG, fontsize=8,
         ha="left", va="center", linespacing=0.95)

plt.savefig("out.png", dpi=100, facecolor=BG)
